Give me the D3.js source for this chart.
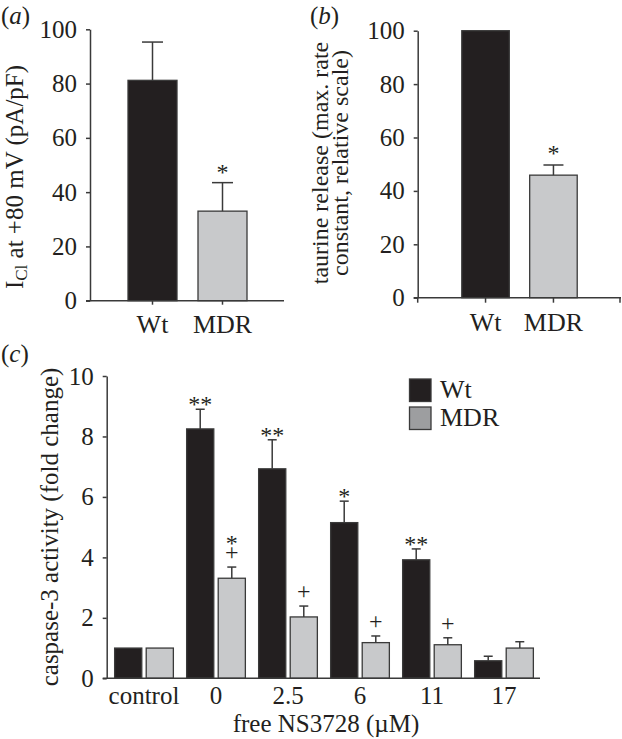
<!DOCTYPE html>
<html><head><meta charset="utf-8">
<script src="https://cdn.jsdelivr.net/npm/d3@7"></script>
<style>
html,body{margin:0;padding:0;background:#fff;}
svg{display:block;}
text{font-family:"Liberation Serif","Times New Roman",Times,serif;fill:#231f20;}
</style></head>
<body>
<svg id="chart" width="622" height="739"></svg>
<script>
// ---------- data ----------
const catsAB = ["Wt", "MDR"];
const valuesA = [81.2, 33.0];
const errA = [14.1, 10.5];
const marksA = ["", "*"];
const valuesB = [100, 45.9];
const errB = [0, 3.8];
const marksB = ["", "*"];
const ticksAB = [0, 20, 40, 60, 80, 100];

const groupsC = ["control", "0", "2.5", "6", "11", "17"];
const wtC = [1.0, 8.25, 6.93, 5.15, 3.92, 0.58];
const wtErrC = [0, 0.65, 0.96, 0.71, 0.36, 0.15];
const mdrC = [1.0, 3.31, 2.03, 1.18, 1.11, 1.00];
const mdrErrC = [0, 0.37, 0.36, 0.22, 0.23, 0.21];
const wtMarksC = ["", "**", "**", "*", "**", ""];
const mdrMarksC = ["", "*+", "+", "+", "+", ""];
const ticksC = [0, 2, 4, 6, 8, 10];
const seriesC = ["Wt", "MDR"];

// ---------- style ----------
const FONT = '"Liberation Serif","Times New Roman",Times,serif';
const BLACK = "#231f20", GREY = "#c8c9cb", LEGGREY = "#9d9ea0";
const AX = "#3a3a3a", STROKE = "#3a3a3a";
const TICKFS = 25, CATFS = 25, MFS = 24;

const svg = d3.select("#chart");

function yAxis(g, y, ticks, x0) {
  const a = g.append("g").attr("transform", `translate(${x0},0)`)
    .call(d3.axisLeft(y).tickValues(ticks).tickSize(4).tickSizeOuter(0).tickPadding(9));
  a.attr("font-family", FONT);
  a.select(".domain").attr("stroke", AX).attr("stroke-width", 1.5);
  a.selectAll(".tick line").attr("stroke", AX).attr("stroke-width", 1.5);
  a.selectAll(".tick text").attr("font-size", TICKFS).attr("font-family", FONT).attr("fill", BLACK);
  return a;
}

function errorBars(g, xc, yv, ye, cap) {
  g.append("line").attr("x1", xc).attr("x2", xc).attr("y1", yv).attr("y2", ye)
    .attr("stroke", STROKE).attr("stroke-width", 1.5);
  g.append("line").attr("x1", xc - cap / 2).attr("x2", xc + cap / 2).attr("y1", ye).attr("y2", ye)
    .attr("stroke", STROKE).attr("stroke-width", 1.5);
}

// single significance glyph, visual centre at cy
function mark(g, x, cy, s) {
  const isPlus = s === "+";
  g.append("text").attr("x", x).attr("y", cy + (isPlus ? 0.25 : 0.5) * MFS)
    .attr("text-anchor", "middle").attr("font-size", MFS)
    .attr("fill", isPlus ? "#231f20" : "#555").text(s);
}
// stacked glyphs ("*" over "+") as one vertical text run; "+" centre at cy
function stacked(g, x, cy, s) {
  g.append("text").attr("x", x).attr("y", cy - 15 - 0.39 * MFS)
    .attr("font-size", MFS)
    .style("writing-mode", "vertical-rl").style("text-orientation", "upright")
    .style("letter-spacing", "-17px")
    .attr("fill", "#333").text(s);
}

function panelLabel(x, y, letter) {
  const t = svg.append("text").attr("x", x).attr("y", y).attr("font-size", 25);
  t.append("tspan").text("(");
  t.append("tspan").attr("font-style", "italic").text(letter);
  t.append("tspan").text(")");
}

// ---------- panel (a) ----------
{
  const g = svg.append("g");
  const y = d3.scaleLinear().domain([0, 100]).range([300.7, 29.3]);
  const x = d3.scaleBand().domain(catsAB).range([117.5, 257.5]).paddingInner(0.3).paddingOuter(0.15);
  const x0 = 90, xEnd = 284;
  catsAB.forEach((c, i) => {
    g.append("rect").attr("x", x(c)).attr("y", y(valuesA[i])).attr("width", x.bandwidth())
      .attr("height", y(0) - y(valuesA[i])).attr("fill", i === 0 ? BLACK : GREY)
      .attr("stroke", STROKE).attr("stroke-width", 1.3);
    const xc = x(c) + x.bandwidth() / 2;
    if (errA[i] > 0) errorBars(g, xc, y(valuesA[i]), y(valuesA[i] + errA[i]), 21);
    if (marksA[i]) mark(g, xc, y(valuesA[i] + errA[i]) - 15, marksA[i]);
    g.append("line").attr("x1", xc).attr("x2", xc).attr("y1", y(0)).attr("y2", y(0) + 4)
      .attr("stroke", AX).attr("stroke-width", 1.5);
    g.append("text").attr("x", xc).attr("y", 333).attr("text-anchor", "middle")
      .attr("font-size", CATFS + 1).text(c);
  });
  g.append("line").attr("x1", x0 - 4).attr("x2", xEnd).attr("y1", y(0)).attr("y2", y(0))
    .attr("stroke", AX).attr("stroke-width", 1.5);
  yAxis(g, y, ticksAB, x0);
  const t = g.append("text").attr("transform", "translate(23,177) rotate(-90)")
    .attr("text-anchor", "middle").attr("font-size", 25);
  t.append("tspan").text("I");
  t.append("tspan").attr("font-size", 17).attr("dy", 4).text("Cl");
  t.append("tspan").attr("dy", -4).text(" at +80 mV (pA/pF)");
  panelLabel(1, 24, "a");
}

// ---------- panel (b) ----------
{
  const g = svg.append("g");
  const y = d3.scaleLinear().domain([0, 100]).range([297.7, 30.7]);
  const x = d3.scaleBand().domain(catsAB).range([451.6, 587.4]).paddingInner(0.3).paddingOuter(0.15);
  const x0 = 417.7, xEnd = 621;
  catsAB.forEach((c, i) => {
    g.append("rect").attr("x", x(c)).attr("y", y(valuesB[i])).attr("width", x.bandwidth())
      .attr("height", y(0) - y(valuesB[i])).attr("fill", i === 0 ? BLACK : GREY)
      .attr("stroke", STROKE).attr("stroke-width", 1.3);
    const xc = x(c) + x.bandwidth() / 2;
    if (errB[i] > 0) errorBars(g, xc, y(valuesB[i]), y(valuesB[i] + errB[i]), 20);
    if (marksB[i]) mark(g, xc, y(valuesB[i] + errB[i]) - 16, marksB[i]);
    g.append("line").attr("x1", xc).attr("x2", xc).attr("y1", y(0)).attr("y2", y(0) + 5)
      .attr("stroke", AX).attr("stroke-width", 1.5);
    g.append("text").attr("x", xc).attr("y", 331).attr("text-anchor", "middle")
      .attr("font-size", CATFS + 1).text(c);
  });
  [x0, xEnd - 1].forEach(v => g.append("line").attr("x1", v).attr("x2", v)
    .attr("y1", y(0)).attr("y2", y(0) + 5).attr("stroke", AX).attr("stroke-width", 1.5));
  g.append("line").attr("x1", x0 - 4).attr("x2", xEnd).attr("y1", y(0)).attr("y2", y(0))
    .attr("stroke", AX).attr("stroke-width", 1.5);
  yAxis(g, y, ticksAB, x0);
  g.append("text").attr("transform", "translate(328,163) rotate(-90)")
    .attr("text-anchor", "middle").attr("font-size", 24).text("taurine release (max. rate");
  g.append("text").attr("transform", "translate(348,163) rotate(-90)")
    .attr("text-anchor", "middle").attr("font-size", 24).text("constant, relative scale)");
  panelLabel(310, 24, "b");
}

// ---------- panel (c) ----------
{
  const g = svg.append("g");
  const y = d3.scaleLinear().domain([0, 10]).range([678.3, 376]);
  const x = d3.scaleBand().domain(groupsC).range([108, 540]).paddingInner(0).paddingOuter(0);
  const xs = d3.scaleBand().domain(seriesC).range([0, x.bandwidth()]).paddingInner(0.14).paddingOuter(0.21);
  const x0 = 106.7, xEnd = 540;
  const cols = [BLACK, GREY];
  groupsC.forEach((gname, i) => {
    const vals = [wtC[i], mdrC[i]], errs = [wtErrC[i], mdrErrC[i]];
    seriesC.forEach((s, j) => {
      const bx = x(gname) + xs(s);
      g.append("rect").attr("x", bx).attr("y", y(vals[j])).attr("width", xs.bandwidth())
        .attr("height", y(0) - y(vals[j])).attr("fill", cols[j])
        .attr("stroke", STROKE).attr("stroke-width", 1.3);
      const xc = bx + xs.bandwidth() / 2;
      if (errs[j] > 0) errorBars(g, xc, y(vals[j]), y(vals[j] + errs[j]), 9);
      const top = y(vals[j] + errs[j]);
      if (j === 0 && wtMarksC[i]) mark(g, xc, top - 9, wtMarksC[i]);
      if (j === 1 && mdrMarksC[i]) {
        if (mdrMarksC[i].length > 1) stacked(g, xc, top - 13, mdrMarksC[i]);
        else mark(g, xc, top - 13, mdrMarksC[i]);
      }
    });
    g.append("text").attr("x", x(gname) + x.bandwidth() / 2).attr("y", 704).attr("text-anchor", "middle")
      .attr("font-size", CATFS).text(gname);
  });
  g.append("line").attr("x1", x0 - 4).attr("x2", xEnd).attr("y1", y(0)).attr("y2", y(0))
    .attr("stroke", AX).attr("stroke-width", 1.5);
  yAxis(g, y, ticksC, x0);
  g.append("text").attr("transform", "translate(58,527) rotate(-90)")
    .attr("text-anchor", "middle").attr("font-size", 25).text("caspase-3 activity (fold change)");
  g.append("text").attr("x", 326).attr("y", 732).attr("text-anchor", "middle")
    .attr("font-size", 25).text("free NS3728 (\u00b5M)");
  // legend
  const legCols = [BLACK, LEGGREY];
  seriesC.forEach((s, j) => {
    const ly = 379 + j * 28;
    g.append("rect").attr("x", 409.5).attr("y", ly).attr("width", 21.5).attr("height", 22.5)
      .attr("fill", legCols[j]).attr("stroke", STROKE).attr("stroke-width", 1.3);
    g.append("text").attr("x", 440).attr("y", ly + 19).attr("font-size", 26).text(s);
  });
  panelLabel(1, 362, "c");
}
</script>
</body></html>
